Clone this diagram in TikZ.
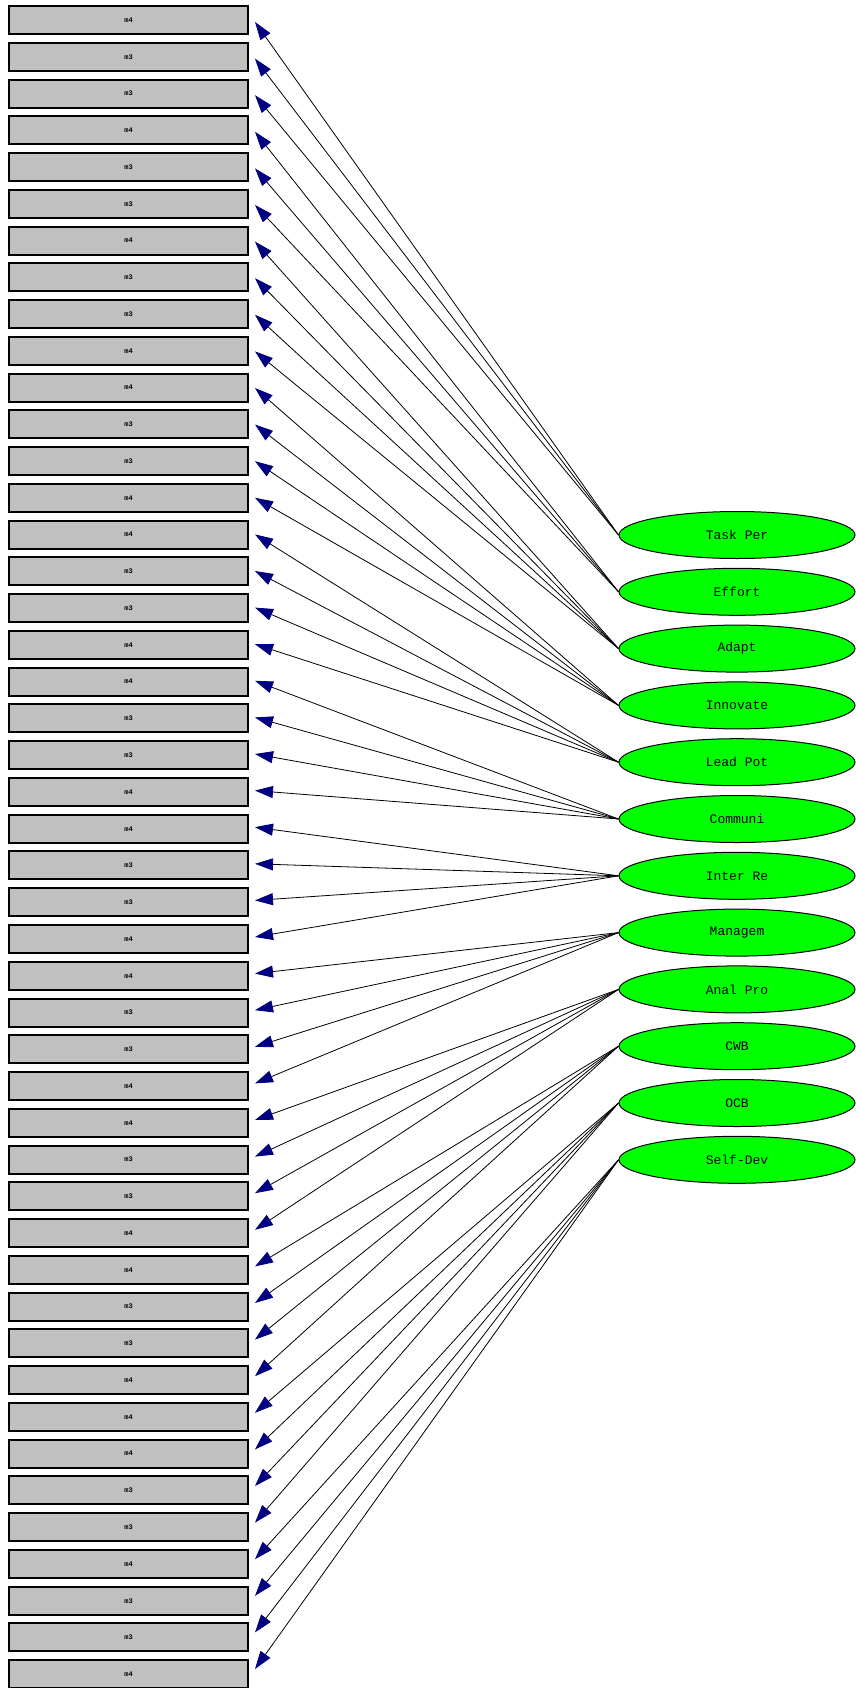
\documentclass[tikz,border=0pt]{standalone}
\usepackage{fontspec}
\newfontfamily\monofont{Liberation Mono}
\usetikzlibrary{shapes.geometric,arrows.meta}
\definecolor{boxgray}{RGB}{192,192,192}
\definecolor{lvgreen}{RGB}{0,255,0}
\definecolor{tipnavy}{RGB}{0,0,128}
\begin{document}
\begin{tikzpicture}[x=1pt,y=-1pt,
  indicator/.style={draw=black,line width=2pt,fill=boxgray,minimum width=239pt,minimum height=28pt,inner sep=0pt,font=\monofont\bfseries\fontsize{7}{7}\selectfont},
  latent/.style={ellipse,draw=black,line width=1pt,fill=lvgreen,minimum width=236pt,minimum height=47pt,inner sep=0pt,font=\monofont\fontsize{13}{13}\selectfont},
  loading/.style={draw=black,line width=0.8pt,-{Triangle[length=18pt,width=12pt,color=tipnavy]}}]
\useasboundingbox (0,0) rectangle (856,1688);
% indicator boxes and arrow-tip points beside them
\foreach \i/\t in {1/m4,2/m3,3/m3,4/m4,5/m3,6/m3,7/m4,8/m3,9/m3,10/m4,11/m4,12/m3,13/m3,14/m4,15/m4,16/m3,17/m3,18/m4,19/m4,20/m3,21/m3,22/m4,23/m4,24/m3,25/m3,26/m4,27/m4,28/m3,29/m3,30/m4,31/m4,32/m3,33/m3,34/m4,35/m4,36/m3,37/m3,38/m4,39/m4,40/m4,41/m3,42/m3,43/m4,44/m3,45/m3,46/m4}{
  \node[indicator] (b\i) at (128.5,{20+36.76*(\i-1)}) {\t};
  \coordinate (t\i) at (255,{22+36.6*(\i-1)});
}
% latent variables
\foreach \j/\t in {1/Task Per,2/Effort,3/Adapt,4/Innovate,5/Lead Pot,6/Communi,7/Inter Re,8/Managem,9/Anal Pro,10/CWB,11/OCB,12/Self-Dev}
  \node[latent] (e\j) at (737,{535+56.8*(\j-1)}) {\t};
% loadings
\foreach \j/\list in {1/{1,2,3},2/{4,5,6},3/{7,8,9,10},4/{11,12,13,14},5/{15,16,17,18},6/{19,20,21,22},7/{23,24,25,26},8/{27,28,29,30},9/{31,32,33,34},10/{35,36,37,38},11/{39,40,41,42},12/{43,44,45,46}}
  \foreach \i in \list
    \draw[loading] (e\j.west) -- (t\i);
\end{tikzpicture}
\end{document}
